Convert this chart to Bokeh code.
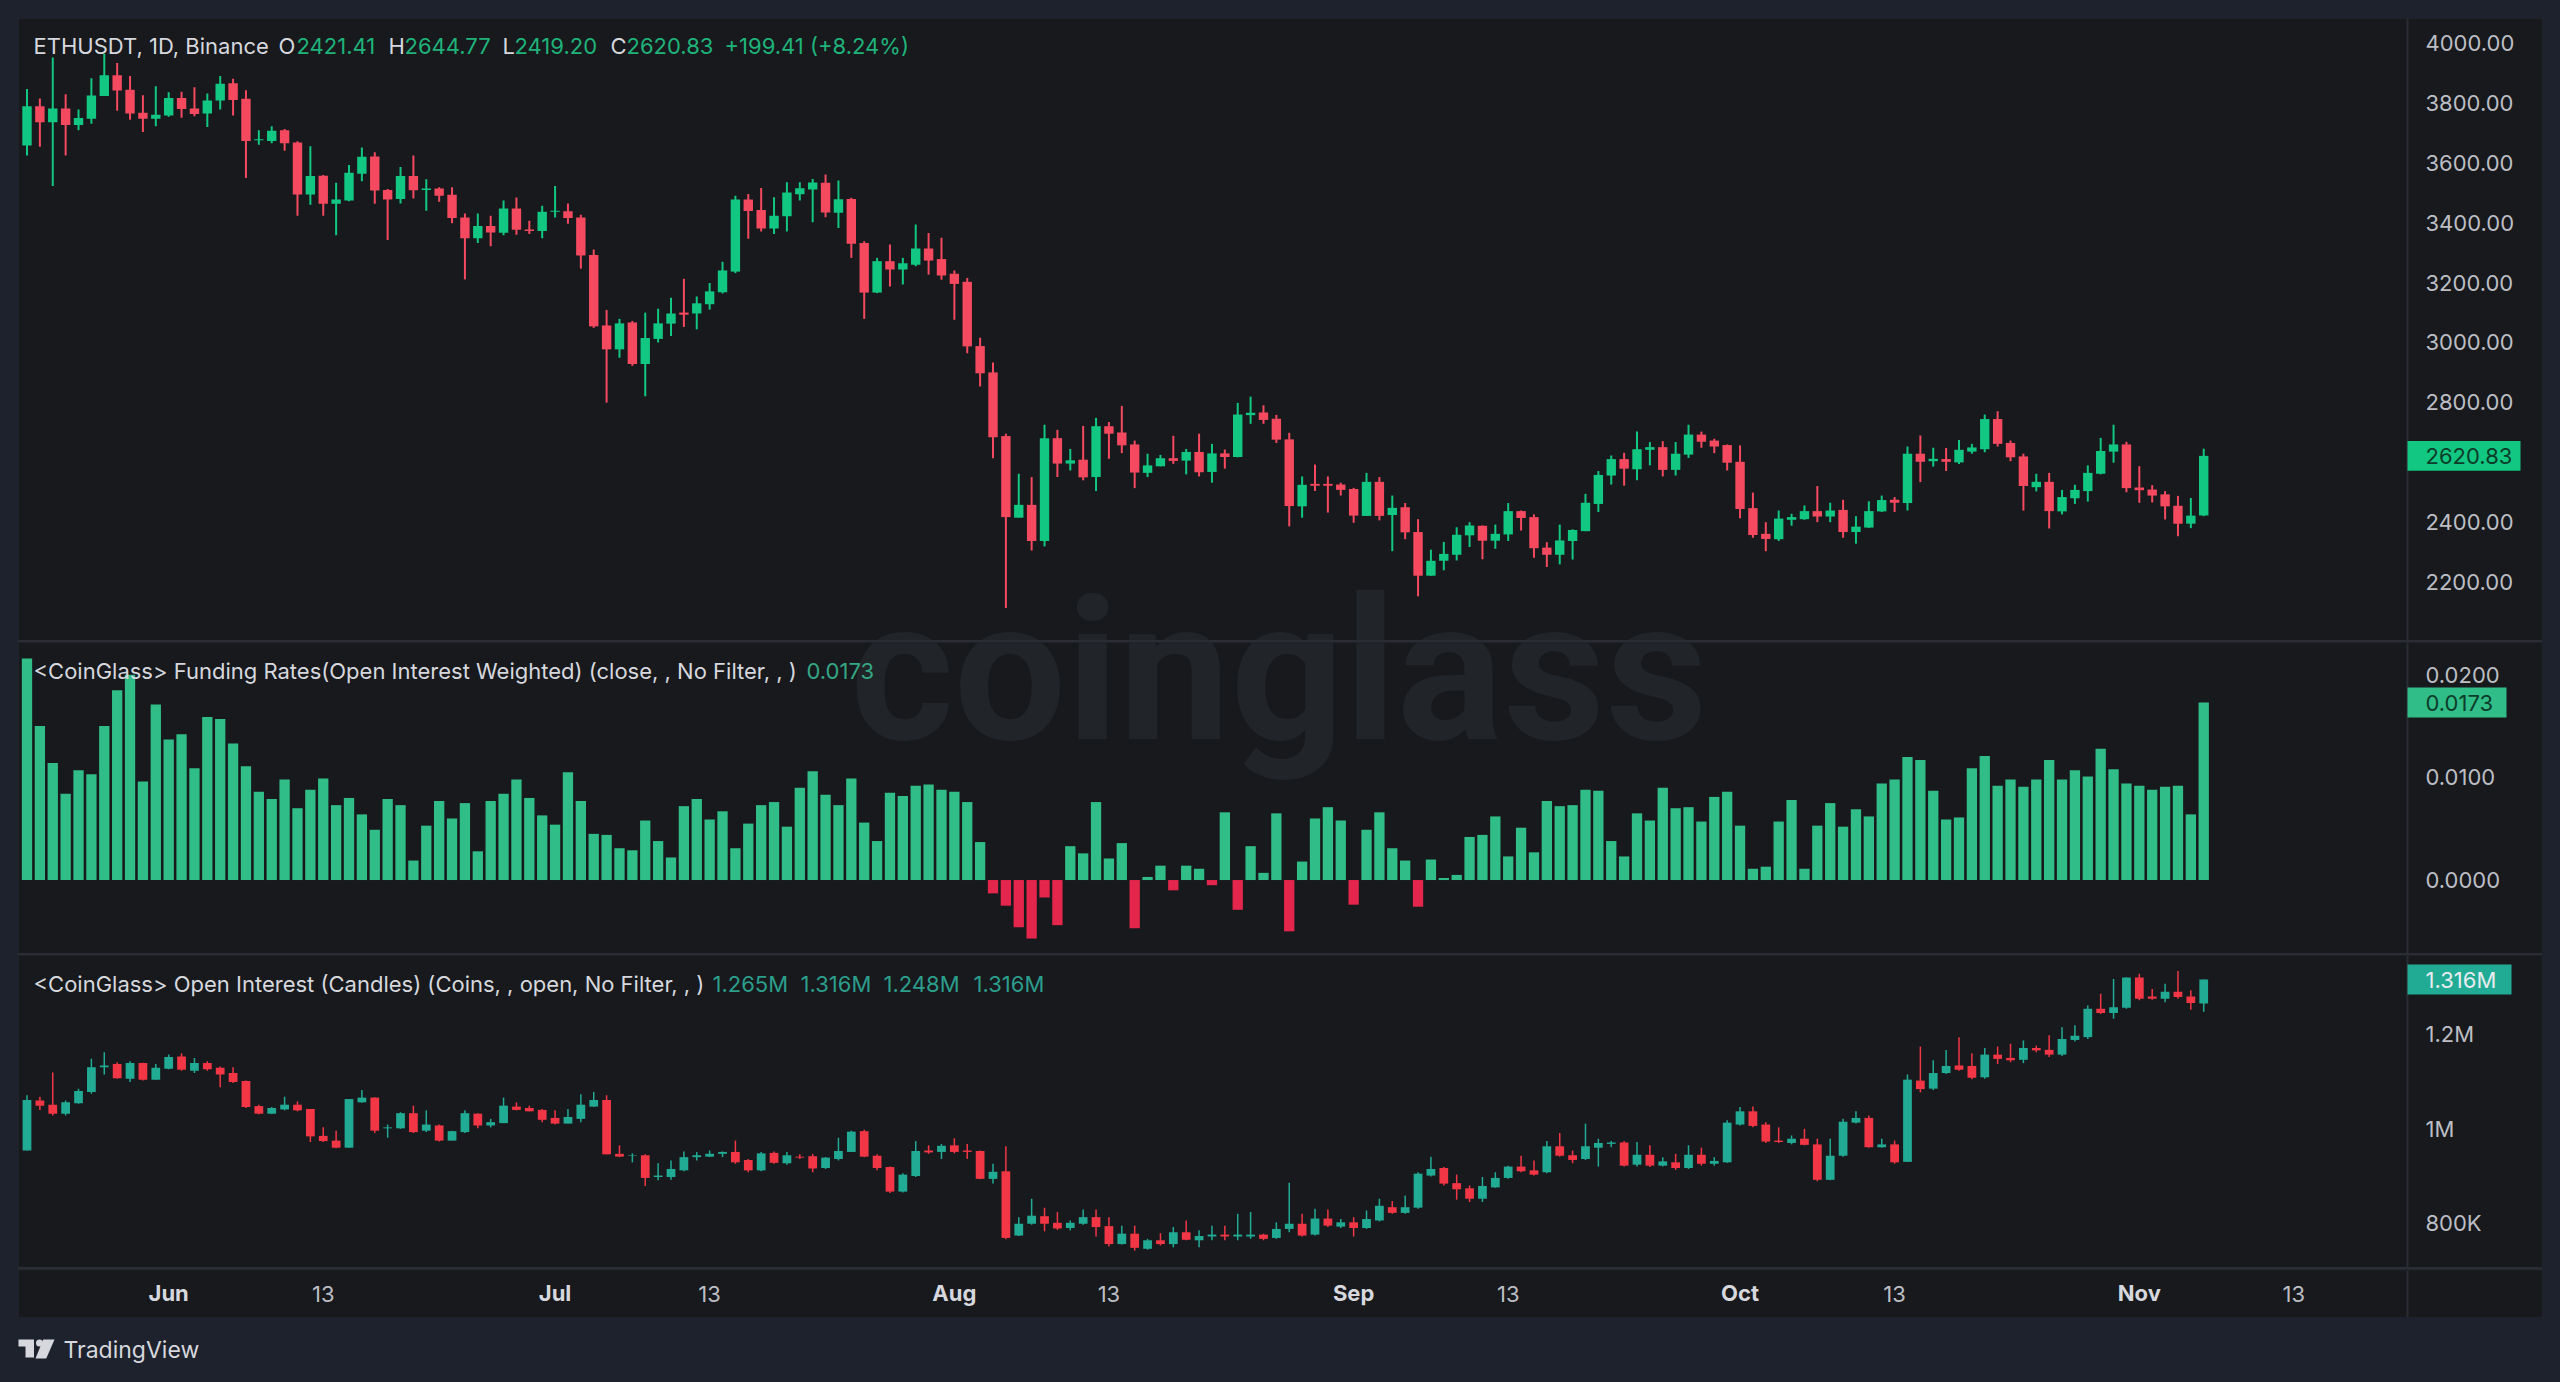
from bokeh.embed import file_html
from bokeh.resources import INLINE
from bokeh.plotting import figure
from bokeh.layouts import column
from bokeh.core.properties import value
from bokeh.models import (ColumnDataSource, Range1d, FixedTicker, LinearAxis, Label,
                          NumeralTickFormatter)

# ---------- data ----------
price_open = [3659,3790,3737,3783,3727,3748,3824,3894,3845,3768,
 3748,3759,3818,3783,3766,3809,3867,3815,3676,3674,
 3710,3669,3495,3558,3464,3475,3564,3622,3510,3480,
 3557,3510,3515,3494,3418,3349,3390,3367,3448,3378,
 3373,3437,3439,3418,3293,3057,2977,3067,2928,3012,
 3063,3100,3097,3128,3168,3237,3478,3443,3381,3422,
 3496,3512,3534,3434,3480,3333,3167,3272,3244,3260,
 3314,3279,3230,3203,2988,2900,2687,2414,2457,2336,
 2680,2595,2608,2550,2720,2699,2659,2564,2586,2613,
 2605,2634,2567,2629,2617,2757,2766,2745,2676,2452,
 2527,2527,2525,2510,2420,2534,2423,2449,2366,2220,
 2270,2290,2355,2387,2337,2358,2436,2416,2314,2290,
 2336,2369,2460,2555,2610,2576,2641,2650,2574,2625,
 2692,2672,2657,2601,2446,2360,2342,2407,2409,2436,
 2418,2440,2366,2381,2435,2474,2463,2628,2603,2610,
 2599,2635,2643,2744,2664,2619,2516,2534,2435,2479,
 2503,2561,2635,2659,2515,2508,2492,2454,2394,2421.41]
price_high = [3848,3816,3953,3830,3779,3884,3966,3935,3891,3827,
 3857,3837,3839,3854,3833,3891,3882,3844,3710,3723,
 3714,3673,3656,3560,3534,3594,3652,3636,3513,3587,
 3625,3546,3519,3519,3431,3431,3424,3475,3485,3407,
 3457,3523,3465,3427,3311,3109,3079,3072,3100,3113,
 3150,3213,3154,3199,3270,3491,3497,3517,3486,3536,
 3536,3547,3562,3542,3484,3339,3283,3328,3283,3395,
 3366,3350,3241,3216,3016,2933,2695,2561,2550,2725,
 2708,2644,2721,2748,2734,2788,2672,2628,2624,2688,
 2644,2695,2661,2642,2798,2819,2790,2758,2698,2552,
 2592,2552,2531,2514,2564,2550,2488,2463,2409,2307,
 2333,2382,2399,2388,2391,2463,2438,2425,2332,2391,
 2375,2494,2570,2622,2631,2702,2667,2670,2667,2725,
 2702,2678,2659,2656,2498,2399,2438,2427,2455,2520,
 2464,2474,2419,2469,2488,2483,2652,2689,2648,2647,
 2674,2661,2759,2770,2672,2628,2561,2564,2507,2524,
 2589,2681,2725,2668,2586,2523,2503,2487,2480,2644.77]
price_low = [3625,3655,3523,3625,3710,3732,3824,3775,3745,3704,
 3723,3755,3752,3757,3721,3779,3759,3550,3661,3666,
 3641,3424,3461,3424,3359,3472,3539,3464,3343,3465,
 3482,3441,3471,3399,3211,3333,3322,3359,3360,3363,
 3349,3418,3397,3247,3049,2799,2949,2922,2820,3000,
 3022,3052,3044,3110,3164,3232,3347,3371,3363,3371,
 3475,3402,3419,3383,3283,3079,3165,3187,3194,3255,
 3227,3210,3076,2964,2853,2613,2112,2414,2304,2318,
 2550,2572,2539,2503,2611,2630,2513,2550,2586,2594,
 2559,2552,2531,2578,2616,2728,2728,2664,2385,2414,
 2503,2431,2488,2397,2420,2405,2302,2342,2151,2220,
 2238,2271,2316,2275,2310,2336,2371,2280,2249,2258,
 2274,2369,2433,2525,2521,2539,2589,2552,2555,2614,
 2648,2630,2572,2412,2347,2302,2336,2387,2407,2399,
 2399,2347,2327,2380,2433,2433,2438,2533,2585,2570,
 2594,2628,2633,2652,2603,2438,2502,2378,2425,2460,
 2468,2559,2598,2499,2464,2465,2408,2352,2379,2419.20]
price_close = [3790,3737,3783,3727,3751,3826,3894,3843,3766,3748,
 3762,3818,3781,3764,3809,3865,3811,3674,3680,3708,
 3666,3495,3557,3464,3478,3568,3621,3508,3478,3557,
 3509,3515,3491,3416,3349,3390,3368,3448,3377,3373,
 3437,3441,3416,3291,3054,2977,3064,2928,3015,3064,
 3097,3093,3131,3171,3241,3478,3440,3381,3424,3502,
 3516,3535,3435,3479,3330,3167,3272,3244,3265,3314,
 3274,3224,3196,2987,2897,2683,2416,2457,2336,2680,
 2595,2606,2549,2720,2695,2656,2565,2589,2613,2604,
 2634,2566,2629,2617,2759,2765,2741,2675,2453,2524,
 2521,2521,2507,2421,2534,2420,2447,2365,2220,2270,
 2293,2357,2388,2337,2360,2436,2413,2312,2290,2338,
 2373,2464,2557,2610,2578,2643,2650,2574,2628,2692,
 2668,2652,2598,2443,2356,2343,2411,2416,2436,2418,
 2438,2366,2384,2436,2473,2464,2628,2601,2611,2601,
 2641,2649,2744,2661,2616,2520,2534,2436,2483,2507,
 2564,2637,2659,2513,2506,2488,2452,2394,2421,2620.83]

funding = [.0216,.0150,.0114,.0084,.0107,.0103,.0150,.0185,.0200,.0096,
 .0171,.0137,.0142,.0109,.0159,.0157,.0133,.0111,.0086,.0079,
 .0098,.0070,.0088,.0099,.0073,.0080,.0064,.0049,.0079,.0073,
 .0019,.0053,.0077,.0060,.0075,.0028,.0077,.0084,.0098,.0080,
 .0063,.0054,.0105,.0077,.0045,.0044,.0031,.0029,.0058,.0038,
 .0022,.0072,.0079,.0059,.0067,.0031,.0055,.0073,.0076,.0052,
 .0090,.0106,.0083,.0073,.0099,.0056,.0038,.0085,.0082,.0092,
 .0093,.0088,.0086,.0076,.0037,-.0013,-.0025,-.0046,-.0057,-.0017,
 -.0044,.0033,.0026,.0076,.0021,.0036,-.0047,.0003,.0014,-.0010,
 .0014,.0011,-.0005,.0066,-.0029,.0033,.0007,.0065,-.0050,.0018,
 .0060,.0071,.0058,-.0024,.0049,.0066,.0031,.0019,-.0026,.0020,
 .0002,.0005,.0042,.0044,.0062,.0023,.0051,.0027,.0077,.0072,
 .0073,.0088,.0087,.0038,.0023,.0065,.0058,.0090,.0070,.0071,
 .0057,.0081,.0086,.0053,.0011,.0013,.0057,.0078,.0011,.0053,
 .0075,.0052,.0069,.0062,.0094,.0098,.0120,.0117,.0087,.0059,
 .0061,.0109,.0121,.0092,.0098,.0091,.0098,.0117,.0098,.0107,
 .0101,.0128,.0108,.0094,.0092,.0088,.0091,.0092,.0064,.0173]

# open interest, thousands of coins
oi_open = [954,1060,1051,1032,1054,1078,1130,1137,1106,1139,
 1104,1127,1153,1123,1139,1129,1118,1101,1048,1032,
 1041,1051,1042,985,975,960,1056,1066,1001,1001,
 1033,996,1007,975,993,1032,1007,1012,1047,1044,
 1040,1023,1011,1021,1047,1061,947,943,944,898,
 898,912,940,941,947,951,934,912,949,927,
 941,942,917,936,951,995,943,919,867,900,
 954,951,965,954,953,894,910,774,799,815,
 801,790,799,813,794,756,778,746,764,756,
 781,764,772,776,772,772,776,769,788,799,
 776,810,793,802,790,806,834,822,833,901,
 917,885,874,852,876,896,920,912,908,963,
 944,936,960,968,971,924,945,922,929,917,
 945,926,929,1009,1037,1009,975,970,979,967,
 892,943,1013,1023,961,967,930,1102,1085,1118,
 1134,1133,1109,1157,1150,1146,1171,1167,1157,1188,
 1194,1254,1245,1256,1320,1280,1275,1290,1280,1265]
oi_high = [1071,1068,1119,1060,1085,1148,1162,1141,1143,1140,
 1137,1157,1160,1150,1143,1132,1130,1102,1051,1046,
 1068,1058,1042,1003,996,1063,1082,1067,1009,1035,
 1049,1039,1009,996,1039,1033,1021,1066,1056,1049,
 1042,1039,1042,1073,1078,1071,965,948,946,927,
 933,952,951,954,952,975,936,951,952,951,
 946,947,940,981,996,998,946,920,906,974,
 965,968,980,968,954,926,963,813,852,833,
 824,806,829,829,813,795,795,767,779,792,
 806,785,795,795,820,824,778,802,886,820,
 831,829,809,813,827,852,847,859,908,941,
 919,903,880,898,908,922,943,933,974,991,
 954,1011,979,974,974,972,965,940,947,965,
 960,940,1018,1046,1047,1014,1003,986,1000,979,
 979,1021,1037,1028,979,975,1115,1174,1145,1167,
 1194,1160,1171,1174,1180,1187,1176,1198,1215,1219,
 1261,1286,1317,1320,1328,1296,1307,1334,1293,1316]
oi_low = [954,1040,1028,1028,1053,1074,1115,1106,1099,1102,
 1104,1126,1123,1118,1123,1088,1097,1044,1031,1031,
 1039,1037,972,972,959,960,1055,991,981,1000,
 991,993,973,975,991,1001,1003,1012,1039,1037,
 1014,1009,1011,1014,1046,946,940,929,879,891,
 892,910,933,940,940,926,908,910,926,924,
 936,908,915,933,951,940,912,864,865,898,
 947,936,948,936,893,884,766,773,797,783,
 786,785,797,772,751,755,742,744,753,749,
 764,749,764,764,764,767,764,767,781,772,
 774,792,790,772,788,804,820,820,831,899,
 880,850,845,845,875,894,908,901,906,941,
 927,934,920,961,920,920,919,920,913,915,
 922,922,928,1007,1003,970,970,967,965,889,
 891,941,1011,960,960,926,930,1077,1082,1116,
 1123,1105,1106,1137,1141,1139,1162,1152,1154,1185,
 1190,1243,1233,1254,1272,1273,1268,1275,1252,1248]
oi_close = [1061,1049,1032,1056,1080,1130,1134,1107,1139,1104,
 1129,1152,1125,1139,1126,1115,1099,1046,1032,1044,
 1051,1039,984,974,960,1063,1066,996,1003,1033,
 993,1009,975,995,1033,1007,1014,1049,1040,1037,
 1019,1011,1025,1051,1061,946,941,944,896,901,
 915,940,944,947,951,929,912,948,928,944,
 939,916,939,953,994,941,917,867,903,953,
 950,964,951,951,894,909,769,799,816,799,
 789,801,813,792,756,778,748,764,756,781,
 765,773,776,772,776,776,767,788,799,774,
 810,795,802,790,809,837,822,834,905,915,
 884,872,852,879,896,920,910,903,963,943,
 934,963,970,971,922,945,922,931,917,945,
 926,932,1013,1037,1006,973,972,979,966,892,
 943,1015,1023,961,967,929,1104,1084,1118,1133,
 1125,1108,1157,1148,1145,1171,1166,1157,1190,1197,
 1254,1245,1257,1320,1275,1275,1290,1279,1266,1316]

price_ticks = [2200,2400,2800,3000,3200,3400,3600,3800,4000]
funding_ticks = [0.0,0.01,0.02]
oi_ticks = [800,1000,1200]
oi_tick_labels = {800:"800K",1000:"1M",1200:"1.2M"}
month_days = [11,41,72,103,133,164]
month_labels = ["Jun","Jul","Aug","Sep","Oct","Nov"]
mid_days = [23,53,84,115,145,176]
mid_labels = ["13","13","13","13","13","13"]

# ---------- style ----------
OUTER="#1e222d"; PANEL="#17191d"; SEP="#2a2d34"; TXT="#d6d8dd"; AX="#bcbec4"
FONT="Inter"
P_UP="#12c781"; P_DN="#f4495f"
F_UP="#30bd87"; F_DN="#e5264c"
O_UP="#22ab94"; O_DN="#f23645"
UNIT_PX=12.88; FIRST_PX=26.5; LEFT=18; RIGHT=2542; AXIS_X=2407; TICK_X=2425
x0=(LEFT-FIRST_PX)/UNIT_PX; x1=(RIGHT-FIRST_PX)/UNIT_PX
FW=RIGHT-LEFT; FS="22px"

def tx(px):
    return (px-FIRST_PX)/UNIT_PX

def base(h, yr):
    p=figure(width=FW, height=h, frame_width=FW, frame_height=h, x_range=Range1d(x0,x1), y_range=yr,
             output_backend="svg", toolbar_location=None, min_border=0,
             background_fill_color=PANEL, border_fill_color=PANEL, outline_line_color=None,
             x_axis_type=None, y_axis_type=None)
    p.grid.visible=False
    return p

def right_axis(p, ticks, fmt=None, overrides=None):
    a=LinearAxis(ticker=FixedTicker(ticks=ticks), major_tick_line_color=None, minor_tick_line_color=None,
                 major_tick_out=0, major_tick_in=0, minor_tick_out=0, minor_tick_in=0,
                 axis_line_color=None, major_label_standoff=TICK_X-RIGHT,
                 major_label_text_color=AX, major_label_text_font=FONT, major_label_text_font_size=FS)
    if fmt: a.formatter=NumeralTickFormatter(format=fmt)
    if overrides: a.major_label_overrides=overrides
    p.add_layout(a,"right")

def label(p, px, y, text, color=TXT):
    p.add_layout(Label(x=px-LEFT, x_units="screen", y=y, text=text, text_color=color, text_font=FONT,
                       text_font_size=FS, text_baseline="middle"))

def vline(p, y0, y1):
    p.segment([tx(AXIS_X)],[y0],[tx(AXIS_X)],[y1],line_color=SEP,line_width=2)

def badge(p, val, half, right, fill, text, color):
    p.quad(left=[tx(AXIS_X)],right=[tx(right)],top=[val+half],bottom=[val-half],fill_color=fill,line_color=None)
    label(p,TICK_X,val,text,color)

def candles(p, o, h, l, c, up, dn, wick=2, w=0.73):
    xs=list(range(len(o)))
    cols=[up if cc>=oo else dn for oo,cc in zip(o,c)]
    s=ColumnDataSource(dict(x=xs,o=o,h=h,l=l,c=c,top=[max(a,b) for a,b in zip(o,c)],
                            bot=[min(a,b) for a,b in zip(o,c)],col=cols))
    p.segment("x","h","x","l",source=s,line_color="col",line_width=wick)
    p.vbar("x",w,"top","bot",source=s,fill_color="col",line_color=None)

def watermark(p, y):
    p.add_layout(Label(x=97.2,y=y,text="coinglass",text_font="Roboto",text_font_style="bold",
                       text_font_size="199px",text_color="#212428",text_align="center",
                       text_baseline="alphabetic",level="underlay"))

# ---------- price pane ----------
r1=Range1d(2003.3,4083.6)
p1=base(622,r1)
watermark(p1,1902)
candles(p1,price_open,price_high,price_low,price_close,P_UP,P_DN)
vline(p1,r1.start,r1.end)
right_axis(p1,price_ticks,fmt="0.00")
HY=3990
label(p1,33,HY,"ETHUSDT, 1D, Binance")
GR="#1fb37a"
for px,t,c in [(278,"O",TXT),(296,"2421.41",GR),(388,"H",TXT),(404,"2644.77",GR),(502,"L",TXT),
               (514,"2419.20",GR),(610,"C",TXT),(626,"2620.83",GR),(724,"+199.41 (+8.24%)",GR)]:
    label(p1,px,HY,t,c)
badge(p1,price_close[-1],50,2520,P_UP,"2620.83","#0b3d2a")

# ---------- funding pane ----------
r2=Range1d(-0.00716,0.02315)
p2=base(311,r2)
watermark(p2,0.02041)
xs=list(range(len(funding)))
p2.vbar(xs,0.8,top=funding,bottom=0,fill_color=[F_UP if v>=0 else F_DN for v in funding],line_color=None)
vline(p2,r2.start,r2.end)
right_axis(p2,funding_ticks,fmt="0.0000")
LY=0.02038
label(p2,33,LY,"<CoinGlass> Funding Rates(Open Interest Weighted) (close, , No Filter, , )")
label(p2,806,LY,"0.0173","#35a785")
badge(p2,funding[-1],0.00146,2506,F_UP,"0.0173","#0b3d2a")

# ---------- open interest pane ----------
r3=Range1d(706.4,1366.8)
p3=base(312,r3)
candles(p3,oi_open,oi_high,oi_low,oi_close,O_UP,O_DN,wick=1.5,w=0.68)
vline(p3,r3.start,r3.end)
right_axis(p3,oi_ticks,overrides=oi_tick_labels)
OY=1306
label(p3,33,OY,"<CoinGlass> Open Interest (Candles) (Coins, , open, No Filter, , )")
TEAL="#2c9e8c"
for px,t in [(712,"1.265M"),(800,"1.316M"),(883,"1.248M"),(973,"1.316M")]:
    label(p3,px,OY,t,TEAL)
badge(p3,oi_close[-1],31.7,2511,O_UP,"1.316M","#e8ecef")

# ---------- time axis ----------
pt=figure(width=FW, height=48, frame_width=FW, frame_height=47, x_range=Range1d(x0,x1), y_range=Range1d(0,1),
          output_backend="svg", toolbar_location=None, min_border=0, min_border_top=1,
          background_fill_color=PANEL, border_fill_color=PANEL, outline_line_color=None,
          x_axis_type=None, y_axis_type=None)
pt.grid.visible=False
ax=LinearAxis(ticker=FixedTicker(ticks=month_days), major_label_overrides=dict(zip(month_days,month_labels)),
              major_tick_line_color=None, minor_tick_line_color=None, major_tick_out=0, major_tick_in=0,
              minor_tick_out=0, minor_tick_in=0, axis_line_color=None,
              major_label_standoff=-35, major_label_text_color=TXT, major_label_text_font=FONT,
              major_label_text_font_size=FS, major_label_text_font_style="bold")
pt.add_layout(ax,"above")
vline(pt,0,1)
pt.text(mid_days,[0.5]*len(mid_days),text=mid_labels,text_color=AX,text_font=value(FONT),
        text_font_size=value(FS),text_align="center",text_baseline="middle")

panes=column(p1,p2,p3,pt,spacing=2,margin=(18,0,0,18),styles={"background-color":SEP})

# ---------- footer ----------
foot=figure(width=2524,height=50,x_range=Range1d(18,2542),y_range=Range1d(1367,1317),
            output_backend="svg",toolbar_location=None,min_border=0,margin=(0,0,0,18),
            background_fill_color=OUTER,border_fill_color=OUTER,outline_line_color=None,
            x_axis_type=None,y_axis_type=None)
foot.grid.visible=False
foot.patches([[17.5,33.5,33.5,25,25,17.5],[42.7,54,45.7,35]],[[1339,1339,1357,1357,1346,1346],[1339,1339,1358,1358]],
             fill_color=TXT,line_color=None)
foot.scatter([39],[1342.5],size=7,fill_color=TXT,line_color=None)
foot.add_layout(Label(x=45,x_units="screen",y=1349,text="TradingView",text_color=TXT,text_font=FONT,
                      text_font_size="23px",text_baseline="middle"))

root=column(panes,foot,spacing=0,margin=0)
html=file_html(root,INLINE)
html=html.replace("<head>","<head><style>html,body{background:%s;margin:0;padding:0}</style>"%OUTER,1)
open("out.html","w").write(html)
